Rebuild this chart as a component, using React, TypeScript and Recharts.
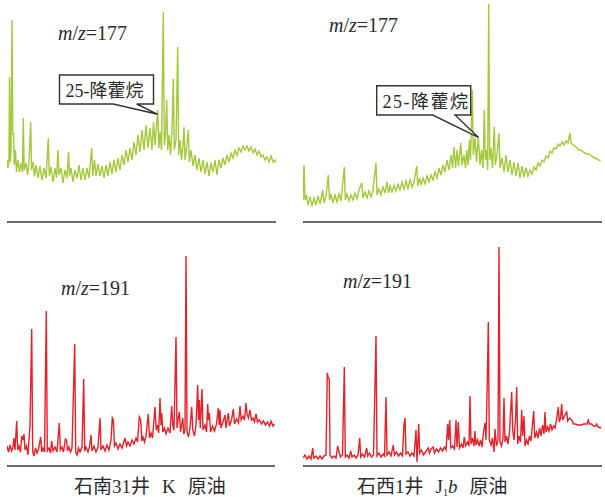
import React from 'react';
import { LineChart, Line, XAxis, YAxis, ReferenceLine } from 'recharts';

// m/z 177, 石南31井 (retention position, relative intensity)
const tl177: [number, number][] = [
  [0, 62], [1, 54], [2, 64], [2.5, 145], [3.3, 60], [4, 72], [5, 202], [5.8, 87], [6.5, 89], [7.3, 57],
  [8.5, 72], [9.5, 50], [11, 62], [12.5, 50], [14, 59], [15.5, 50], [16.3, 104], [17.2, 52], [19, 59], [20.5, 47],
  [22, 60], [23.7, 100], [24.6, 52], [26, 60], [27.5, 46], [29, 57], [31, 44], [33, 56], [35, 42], [37, 54],
  [39, 44], [41.3, 84], [42.3, 46], [44, 55], [46, 40], [48, 54], [49.5, 44], [51, 72], [52, 47], [54, 54],
  [56, 39], [58, 52], [60, 44], [61.5, 70], [62.5, 46], [64, 54], [66, 40], [68, 52], [70, 44], [72, 57],
  [74, 42], [76, 54], [78, 42], [80, 54], [82, 44], [84.7, 74], [85.7, 46], [87.5, 62], [89, 46], [91, 58],
  [93, 46], [95, 56], [97, 44], [99, 57], [101, 46], [103, 60], [105, 48], [107, 62], [109, 50], [111, 64],
  [113, 52], [115, 67], [117, 57], [119, 72], [121, 60], [123, 74], [125, 62], [127, 80], [129, 67], [131, 87],
  [133, 70], [135, 92], [137, 72], [139, 97], [141, 74], [143, 94], [145, 72], [146.5, 100], [148, 77], [150.7, 112],
  [151.8, 74], [153, 90], [154.5, 72], [156.3, 210], [157.3, 77], [158.5, 87], [159.7, 122], [160.7, 72], [162, 87], [163.5, 67],
  [165, 92], [166.3, 143], [167.3, 72], [169, 82], [170.7, 175], [171.7, 67], [173, 82], [174.5, 62], [176, 77], [177, 95],
  [178, 62], [179.5, 74], [181.3, 92], [182.3, 60], [184, 72], [186, 56], [188, 67], [190, 52], [192, 64], [194, 50],
  [196, 62], [198, 48], [200, 60], [202, 46], [204, 59], [206, 50], [208, 62], [210, 47], [212, 62], [214, 54],
  [216, 64], [218, 57], [220, 67], [222, 60], [224, 69], [226, 64], [228, 72], [230, 67], [232, 74], [234, 70],
  [236, 76], [238, 72], [240, 76], [242, 71], [244, 75], [246, 69], [248, 73], [250, 67], [252, 71], [254, 65],
  [256, 67], [258, 62], [260, 65], [262, 60], [264, 66], [266, 60], [268, 62], [269, 59],
];

// m/z 177, 石西1井
const tr177: [number, number][] = [
  [0, 22], [1, 57], [2, 22], [3.5, 27], [5, 17], [7, 25], [9, 16], [11, 24], [13, 17], [15, 26],
  [17, 18], [19.7, 32], [21, 19], [23, 26], [25.3, 47], [26.5, 22], [28, 28], [30, 19], [32, 27], [34, 20],
  [36, 28], [38, 21], [41.3, 55], [42.3, 22], [44, 28], [46, 21], [48, 27], [50, 22], [52, 29], [54, 23],
  [56, 32], [58.7, 39], [60, 24], [62, 30], [64, 24], [66, 31], [68, 25], [70, 32], [73, 59], [74, 27],
  [76, 33], [78, 27], [80, 35], [82, 29], [84, 40], [85.5, 29], [87, 36], [89, 30], [91, 37], [93, 31],
  [95, 38], [97, 32], [99, 40], [101, 33], [103, 41], [105, 34], [107, 42], [109, 35], [111, 40], [113.7, 56],
  [114.7, 36], [116.5, 44], [118, 37], [120, 44], [122, 38], [124, 46], [126, 40], [128, 47], [130, 42], [132, 50],
  [134, 44], [136, 54], [138, 47], [140, 57], [142, 50], [144, 62], [146, 52], [148, 67], [149.5, 54], [151, 75],
  [152.5, 54], [154, 72], [155.5, 56], [157.7, 79], [159, 57], [161, 67], [162.5, 54], [163.7, 72], [165, 57], [166.5, 82],
  [167.5, 62], [169.3, 132], [170.3, 67], [172, 84], [173.5, 60], [175.3, 85], [177, 57], [178.5, 72], [180, 54], [181.3, 112],
  [182.3, 62], [183.5, 72], [184.7, 52], [185.7, 218], [186.7, 62], [188, 74], [189.5, 54], [191.3, 95], [192.3, 57], [194, 67],
  [196, 89], [197, 54], [199, 64], [201, 50], [203, 67], [205, 50], [207, 62], [209, 47], [211, 60], [213, 46],
  [215, 59], [217, 44], [219, 56], [221, 45], [223, 54], [225, 46], [227, 52], [229, 48], [231, 55], [233, 52],
  [235, 59], [237, 56], [239, 62], [241, 60], [243, 66], [245, 64], [247, 71], [249, 69], [251, 74], [253, 73],
  [255, 78], [257, 76], [259, 80], [261, 77], [263, 81], [265, 79], [267, 89], [268, 79], [270, 77], [272, 76],
  [274, 74], [276, 72], [278, 72], [280, 70], [282, 69], [284, 68], [286, 68], [288, 66], [290, 65], [292, 64],
  [294, 63], [296, 62], [297.5, 61],
];

// m/z 191, 石南31井
const bl191: [number, number][] = [
  [0, 20], [1.5, 14], [3, 21], [4.5, 15], [6, 19], [7, 28], [8, 16], [9.7, 45], [10.7, 16], [12, 20],
  [13.5, 14], [14.7, 30], [16, 26], [17, 32], [18, 16], [19.5, 20], [21, 11], [23, 41], [24.7, 137], [25.7, 14],
  [27, 10], [28.5, 18], [30, 13], [31.5, 17], [33.7, 29], [34.7, 14], [36, 18], [37.5, 14], [39.3, 155], [40.3, 15],
  [42, 18], [43.5, 13], [44.7, 25], [46, 15], [48, 19], [50, 14], [52.3, 43], [53.3, 16], [55, 19], [56.5, 14],
  [58.3, 27], [59.5, 26], [60.5, 15], [62, 19], [63.5, 14], [65, 18], [67.7, 122], [68.7, 14], [70, 11], [71.5, 18],
  [73, 14], [75, 19], [76.7, 87], [77.7, 15], [79, 19], [81, 14], [82.5, 19], [84, 31], [85, 15], [87, 20],
  [89, 14], [91, 19], [93, 48], [94, 16], [96, 20], [98, 15], [100, 21], [102, 16], [104, 26], [105.3, 48],
  [106.3, 46], [107.5, 20], [109, 23], [111, 17], [113, 22], [115, 18], [116.5, 23], [118, 28], [119.5, 20], [121, 24],
  [123, 20], [125, 26], [127, 22], [129, 28], [130.5, 24], [132.3, 49], [133.7, 46], [134.8, 25], [136, 29], [137.5, 24],
  [139, 30], [141.3, 52], [142.5, 28], [144, 33], [145.5, 28], [148, 59], [149.2, 36], [150.5, 41], [151.7, 33], [153, 68],
  [154, 41], [154.7, 53], [155.8, 34], [157.5, 38], [159, 32], [161, 38], [163, 33], [164.7, 60], [165.8, 41], [167, 36],
  [169, 129], [170, 38], [171, 46], [172.3, 54], [173.5, 34], [175.7, 48], [176.8, 32], [178, 36], [179, 210], [180, 34],
  [181.5, 29], [183, 38], [184.7, 59], [185.8, 36], [187.5, 30], [189, 41], [190.7, 81], [191.5, 46], [192.3, 66], [193.3, 38],
  [195, 77], [196, 36], [198, 41], [199.5, 34], [200.7, 62], [201.5, 46], [202.3, 53], [203.5, 34], [205.5, 40], [207.5, 35],
  [209.5, 42], [211.3, 58], [212.2, 41], [213, 56], [214, 38], [216, 44], [218, 51], [219, 38], [221.3, 53], [222.5, 40],
  [224.5, 46], [226.3, 57], [227.5, 42], [229.5, 47], [231.5, 43], [233, 60], [234.2, 46], [236, 50], [237.5, 46], [239, 63],
  [240, 52], [241.5, 48], [243, 56], [244.5, 46], [246, 48], [247.5, 44], [249, 52], [250.5, 44], [252.5, 46], [254.5, 42],
  [256.5, 45], [258.5, 41], [260.5, 44], [262.5, 40], [264, 45], [266, 40], [267.5, 42],
];

// m/z 191, 石西1井
const br191: [number, number][] = [
  [0.3, 8], [2, 11], [4, 7], [6, 10], [8, 7], [9.7, 18], [10.7, 8], [13, 10], [15, 7], [17, 10],
  [19, 7], [21, 10], [23, 11], [24.3, 93], [25.3, 88], [26.3, 87], [27, 11], [29, 8], [31, 10], [33, 8],
  [34.7, 20], [36, 14], [37.5, 9], [39.5, 11], [41.3, 99], [42.3, 9], [44, 11], [46, 8], [47.7, 15], [49, 9],
  [51, 11], [53, 8], [55, 11], [56.7, 28], [57.7, 9], [59.5, 12], [61.5, 9], [63.7, 18], [64.7, 10], [66.5, 13],
  [68.5, 9], [70.5, 11], [73, 130], [74, 10], [76, 13], [78, 9], [80, 12], [81.5, 10], [83, 69], [84, 11],
  [86, 14], [88, 10], [90.3, 21], [91.5, 11], [93.5, 14], [95.5, 10], [97.5, 13], [99.5, 10], [101, 42], [102, 48],
  [103, 12], [105, 14], [107, 10], [109, 13], [111, 10], [113, 36], [114, 4], [115.7, 42], [116.7, 13], [118.5, 16],
  [120.5, 11], [122.5, 14], [125.3, 18], [126.5, 13], [128, 17], [130.3, 19], [131.5, 13], [133.5, 17], [135.5, 14], [137.5, 18],
  [139.5, 15], [141.5, 19], [143, 16], [144.7, 42], [145.5, 26], [146.7, 46], [147.8, 18], [149.5, 20], [151.5, 17], [153, 46],
  [154, 19], [155.3, 44], [156.5, 18], [158.5, 22], [160, 18], [161.3, 29], [162.5, 20], [164.5, 24], [166, 20], [167, 70],
  [168, 22], [169.5, 28], [171, 20], [172, 35], [173, 21], [174.5, 26], [176, 20], [177.5, 26], [179, 19], [180.5, 34],
  [182, 43], [183, 26], [184.3, 86], [185.3, 144], [186.3, 26], [188, 21], [189.5, 28], [191, 14], [192, 37], [193.5, 20],
  [195, 26], [196, 219], [197, 24], [198.5, 20], [200, 28], [201, 68], [202, 24], [203.5, 30], [205, 22], [206.5, 34],
  [208.7, 74], [209.7, 36], [211, 26], [212.5, 46], [213.7, 79], [214.7, 22], [216, 30], [217.5, 24], [218.7, 56], [219.7, 30],
  [221, 50], [222, 20], [223.5, 26], [225, 22], [226.5, 30], [228, 25], [230.7, 55], [231.7, 28], [233.5, 34], [235, 28],
  [236.5, 38], [238, 30], [239.5, 41], [241, 32], [242, 54], [243, 34], [244.5, 39], [246, 35], [247.5, 42], [249, 36],
  [250.5, 40], [252, 38], [253.5, 46], [255.3, 59], [256.3, 44], [257.5, 48], [258.7, 62], [259.7, 46], [261.5, 50], [263.7, 54],
  [264.7, 45], [266.5, 48], [268.7, 46], [270.5, 42], [272.5, 42], [274.5, 41], [276.5, 41], [278.5, 41], [280.5, 42], [282.5, 42],
  [284, 42], [285.3, 46], [286.5, 42], [288.5, 42], [290.5, 40], [292.5, 40], [293.7, 42], [295, 39], [297, 38], [298, 39],
];

const ionLabels = ['177', '191'];
const peakLabel = '25-降藿烷';
const wellLeft = '石南31井';
const wellRight = '石西1井';

const GREEN = '#a3c93a';
const RED = '#e8202a';
const SERIF = '"Liberation Serif", "Times New Roman", "Noto Sans CJK SC", serif';
const INK = '#2b2b2b';

type TraceProps = {
  left: number; top: number; width: number; height: number;
  data: [number, number][]; xMax: number; yMax: number; color: string;
};

function Trace({ left, top, width, height, data, xMax, yMax, color }: TraceProps) {
  const rows = data.map(([t, v]) => ({ t, v }));
  return (
    <div style={{ position: 'absolute', left, top }}>
      <LineChart width={width} height={height + 4} data={rows} margin={{ top: 0, right: 0, bottom: 4, left: 0 }}>
        <XAxis type="number" dataKey="t" domain={[0, xMax]} hide allowDataOverflow />
        <YAxis type="number" domain={[0, yMax]} hide allowDataOverflow />
        <ReferenceLine y={0} stroke="#3a3a3a" strokeWidth={1.6} />
        <Line type="linear" dataKey="v" stroke={color} strokeWidth={1.4} strokeLinejoin="miter" dot={false} isAnimationActive={false} />
      </LineChart>
    </div>
  );
}

function MZ({ x, y, ion }: { x: number; y: number; ion: string }) {
  return (
    <text x={x} y={y} fontFamily={SERIF} fontSize={20} fill={INK}>
      <tspan fontStyle="italic">m</tspan>
      <tspan>/</tspan>
      <tspan fontStyle="italic">z</tspan>
      <tspan>={ion}</tspan>
    </text>
  );
}

export default function App() {
  return (
    <div style={{ position: 'absolute', left: 0, top: 0, width: 605, height: 497, background: '#fff', overflow: 'hidden' }}>
      <Trace left={7} top={0} width={269} height={222} data={tl177} xMax={269} yMax={222} color={GREEN} />
      <Trace left={303} top={0} width={299} height={222} data={tr177} xMax={299} yMax={222} color={GREEN} />
      <Trace left={7} top={240} width={268} height={226} data={bl191} xMax={268} yMax={226} color={RED} />
      <Trace left={303} top={240} width={299} height={226} data={br191} xMax={299} yMax={226} color={RED} />
      <svg width={605} height={497} style={{ position: 'absolute', left: 0, top: 0, pointerEvents: 'none' }}>
        <MZ x={58} y={40} ion={ionLabels[0]} />
        <MZ x={329} y={32} ion={ionLabels[0]} />
        <MZ x={61} y={295} ion={ionLabels[1]} />
        <MZ x={343} y={288} ion={ionLabels[1]} />

        <path d="M59.5,75 H153.5 V104 H136.7 L157.7,114.3 L113.3,104 H59.5 Z" fill="#fff" stroke="#333" strokeWidth={1.4} />
        <text x={65.5} y={97} fontFamily={SERIF} fontSize={18} fill={INK}>{peakLabel}</text>

        <path d="M376.7,85.7 H470.7 V115 H455 L478.3,137.3 L432.7,115 H376.7 Z" fill="#fff" stroke="#333" strokeWidth={1.4} />
        <text x={382.5} y={107.5} fontFamily={SERIF} fontSize={18} letterSpacing={1.5} fill={INK}>{peakLabel}</text>

        <text x={74} y={493} fontFamily={SERIF} fontSize={19} fill={INK}>
          <tspan>{wellLeft}</tspan>
          <tspan dx={12}>K</tspan>
          <tspan dx={12}>原油</tspan>
        </text>
        <text x={357} y={493} fontFamily={SERIF} fontSize={19} fill={INK}>
          <tspan>{wellRight}</tspan>
          <tspan dx={12}>J</tspan>
          <tspan fontSize={10} dy={3}>1</tspan>
          <tspan fontStyle="italic" dy={-3}>b</tspan>
          <tspan dx={12}>原油</tspan>
        </text>
      </svg>
    </div>
  );
}
